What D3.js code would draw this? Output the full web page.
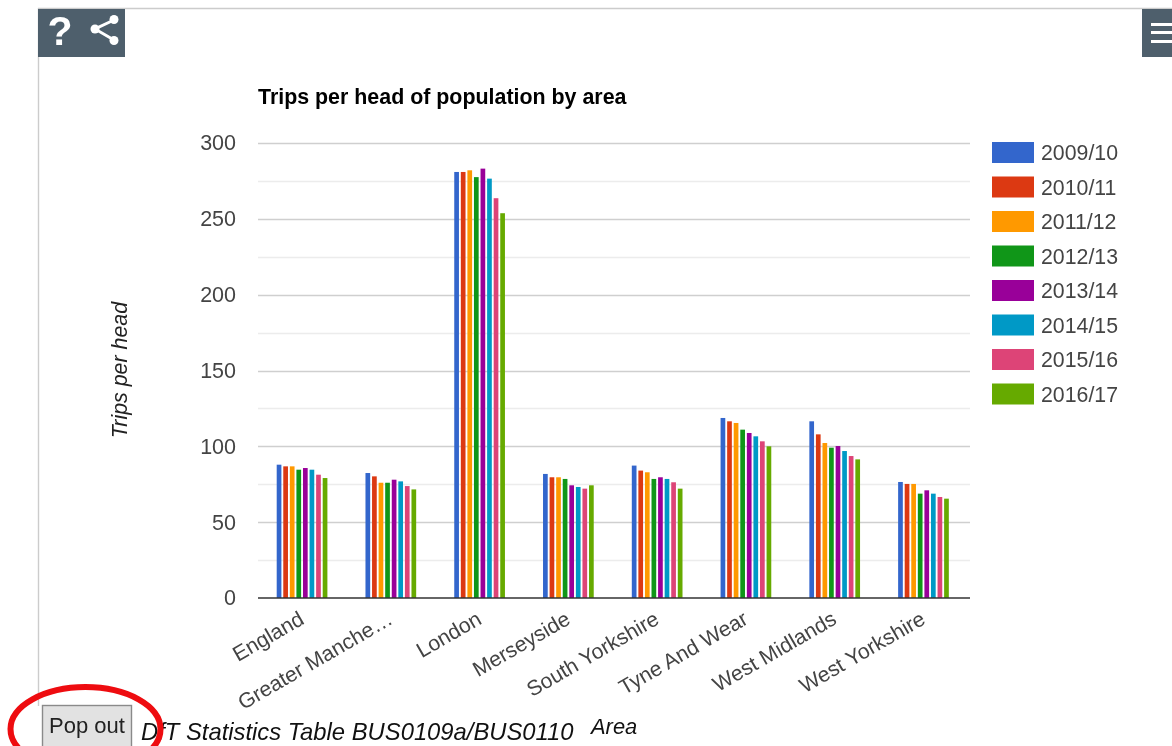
<!DOCTYPE html>
<html><head><meta charset="utf-8">
<script src="https://cdn.jsdelivr.net/npm/d3@7"></script>
<style>
html,body{margin:0;padding:0;background:#fff;overflow:hidden}
svg{display:block;font-family:"Liberation Sans",Arial,sans-serif;filter:blur(0.35px)}
</style></head><body><svg id="c" width="1172" height="746"></svg>
<script>
const categories=["England","Greater Manche…","London","Merseyside","South Yorkshire","Tyne And Wear","West Midlands","West Yorkshire"];
const seriesNames=["2009/10","2010/11","2011/12","2012/13","2013/14","2014/15","2015/16","2016/17"];
const seriesColors=["#3366cc","#dc3912","#ff9900","#109618","#990099","#0099c6","#dd4477","#66aa00"];
const england=[87.9,86.8,86.8,84.6,85.7,84.6,81.3,79.1];
const greaterManchester=[82.4,80.2,76,76,78,76.9,73.8,71.6];
const london=[280.9,280.9,282,277.5,283.1,276.5,263.6,253.7];
const merseyside=[81.8,79.6,79.6,78.5,74.3,73.2,72.1,74.3];
const southYorkshire=[87.3,84,82.9,78.5,79.6,78.5,76.3,72.1];
const tyneAndWear=[118.7,116.5,115.4,111,108.8,106.6,103.3,100];
const westMidlands=[116.5,107.9,102.2,99.1,100.2,96.9,93.6,91.4];
const westYorkshire=[76.5,75.2,75.2,68.8,71,68.8,66.6,65.5];
const rows=[england,greaterManchester,london,merseyside,southYorkshire,tyneAndWear,westMidlands,westYorkshire];
const majorTicks=[0,50,100,150,200,250,300];
const minorTicks=[25,75,125,175,225,275];

const svg=d3.select("#c");
const x0=d3.scaleBand().domain(categories).range([258,968.2]);
const x1=d3.scaleBand().domain(seriesNames).range([18.7,69.4]).paddingInner(0.285).paddingOuter(0);
const y=d3.scaleLinear().domain([0,300]).range([598,143]);

// page chrome
svg.append("line").attr("x1",38).attr("x2",1172).attr("y1",8.5).attr("y2",8.5).attr("stroke","#ccc").attr("stroke-width",1.4);
svg.append("line").attr("x1",38.5).attr("x2",38.5).attr("y1",8).attr("y2",706).attr("stroke","#ccc").attr("stroke-width",1.4);
svg.append("rect").attr("x",38).attr("y",9).attr("width",87).attr("height",48).attr("fill","#4e5f6c");
svg.append("rect").attr("x",1142).attr("y",9).attr("width",30).attr("height",48).attr("fill","#4e5f6c");
svg.append("text").attr("x",60).attr("y",45).attr("text-anchor","middle").attr("font-size",41).attr("font-weight","bold").attr("fill","#fff").text("?");
const share=svg.append("g").attr("fill","#fff").attr("stroke","#fff");
share.append("polyline").attr("points","114,20 95,29 114,40").attr("fill","none").attr("stroke-width",3);
[[114,19.5],[95,29],[114,40.5]].forEach(p=>share.append("circle").attr("cx",p[0]).attr("cy",p[1]).attr("r",4.5).attr("stroke","none"));
[24,32,41].forEach(v=>svg.append("rect").attr("x",1151).attr("y",v-1).attr("width",21).attr("height",3).attr("fill","#fff"));

// title
svg.append("text").attr("x",258).attr("y",104).attr("font-size",21.4).attr("font-weight","bold").attr("fill","#000").text("Trips per head of population by area");

// grid
svg.append("g").selectAll("line").data(minorTicks).join("line")
 .attr("x1",258).attr("x2",970).attr("y1",d=>Math.round(y(d))+.5).attr("y2",d=>Math.round(y(d))+.5).attr("stroke","#ececec").attr("stroke-width",1.4);
svg.append("g").selectAll("line").data(majorTicks.slice(1)).join("line")
 .attr("x1",258).attr("x2",970).attr("y1",d=>Math.round(y(d))+.5).attr("y2",d=>Math.round(y(d))+.5).attr("stroke","#cfcfcf").attr("stroke-width",1.4);

// y axis labels
const yAxis=svg.append("g").attr("transform","translate(236,0)").call(d3.axisLeft(y).tickValues(majorTicks).tickSize(0).tickPadding(0));
yAxis.select(".domain").remove();
yAxis.selectAll("text").attr("font-size",21.5).attr("fill","#444").attr("font-family","'Liberation Sans',Arial,sans-serif").attr("dy","0.32em");

// bars
const groups=svg.append("g").selectAll("g").data(rows).join("g").attr("transform",(d,i)=>`translate(${x0(categories[i])},0)`);
groups.selectAll("rect").data(d=>d).join("rect")
 .attr("x",(d,i)=>x1(seriesNames[i])).attr("width",x1.bandwidth())
 .attr("y",d=>y(d)).attr("height",d=>y(0)-y(d)).attr("fill",(d,i)=>seriesColors[i]);

// baseline
svg.append("line").attr("x1",258).attr("x2",970).attr("y1",598).attr("y2",598).attr("stroke","#333").attr("stroke-width",1.6);

// x labels
svg.append("g").selectAll("text").data(categories).join("text")
 .attr("transform",d=>`translate(${x0(d)+x0.bandwidth()/2+3},623) rotate(-30)`)
 .attr("text-anchor","end").attr("font-size",21.2).attr("fill","#444").text(d=>d);

// y title
svg.append("text").attr("transform","translate(127,370) rotate(-90)").attr("text-anchor","middle")
 .attr("font-size",21.4).attr("font-style","italic").attr("fill","#222").text("Trips per head");

// legend
const leg=svg.append("g").selectAll("g").data(seriesNames).join("g").attr("transform",(d,i)=>`translate(992,${142+i*34.5})`);
leg.append("rect").attr("width",42).attr("height",21).attr("fill",(d,i)=>seriesColors[i]);
leg.append("text").attr("x",49).attr("y",18).attr("font-size",21.3).attr("fill","#444").text(d=>d);

// footer
svg.append("text").attr("x",141).attr("y",740).attr("font-size",23.8).attr("font-style","italic").attr("fill","#111").text("DfT Statistics Table BUS0109a/BUS0110");
svg.append("text").attr("x",591).attr("y",734).attr("font-size",21.9).attr("font-style","italic").attr("fill","#111").text("Area");

// pop out button + ellipse
svg.append("rect").attr("x",42.5).attr("y",705.5).attr("width",89).attr("height",42).attr("fill","#e2e2e2").attr("stroke","#8a8a8a").attr("stroke-width",1.4);
svg.append("text").attr("x",87).attr("y",733).attr("text-anchor","middle").attr("font-size",22).attr("fill","#222").text("Pop out");
svg.append("ellipse").attr("cx",85.5).attr("cy",729).attr("rx",75).attr("ry",42).attr("fill","none").attr("stroke","#ee0c10").attr("stroke-width",6);
</script></body></html>
